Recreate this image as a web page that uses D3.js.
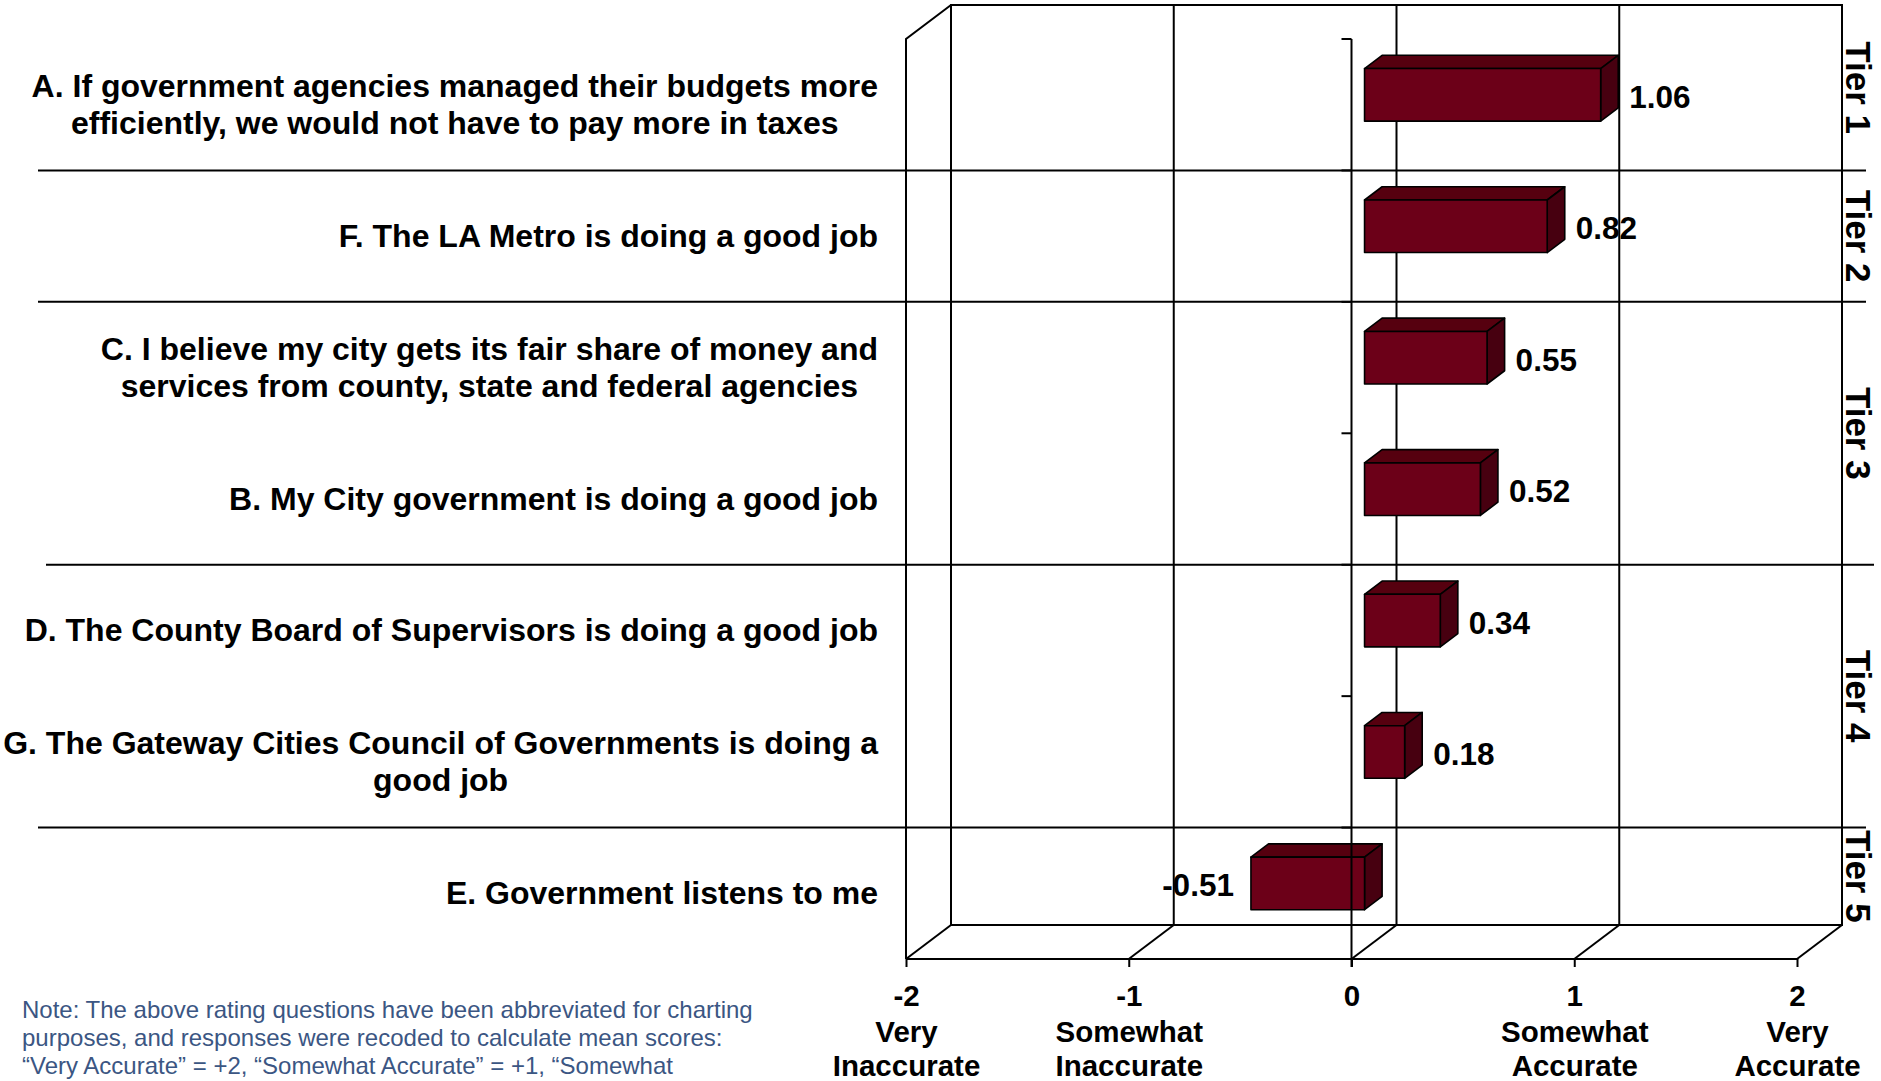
<!DOCTYPE html>
<html>
<head>
<meta charset="utf-8">
<script src="https://cdn.jsdelivr.net/npm/d3@7"></script>
<style>
  html, body { margin: 0; padding: 0; background: #ffffff; overflow: hidden; }
  svg { display: block; }
  text { font-family: "Liberation Sans", Arial, Helvetica, sans-serif; }
</style>
</head>
<body>
<svg id="chart" width="1881" height="1081"></svg>
<script>
// ---------------- DATA ----------------
const categories = [
  ["A. If government agencies managed their budgets more", "efficiently, we would not have to pay more in taxes"],
  ["F. The LA Metro is doing a good job"],
  ["C. I believe my city gets its fair share of money and", "services from county, state and federal agencies"],
  ["B. My City government is doing a good job"],
  ["D. The County Board of Supervisors is doing a good job"],
  ["G. The Gateway Cities Council of Governments is doing a", "good job"],
  ["E. Government listens to me"]
];
const values = [1.06, 0.82, 0.55, 0.52, 0.34, 0.18, -0.51];
const valueLabels = ["1.06", "0.82", "0.55", "0.52", "0.34", "0.18", "-0.51"];
const tiers = ["Tier 1", "Tier 2", "Tier 3", "Tier 3", "Tier 4", "Tier 4", "Tier 5"];
const tickValues = [-2, -1, 0, 1, 2];
const tickLabels = ["-2", "-1", "0", "1", "2"];
const tickCaptions = [["Very", "Inaccurate"], ["Somewhat", "Inaccurate"], [], ["Somewhat", "Accurate"], ["Very", "Accurate"]];
const noteLines = [
  "Note: The above rating questions have been abbreviated for charting",
  "purposes, and responses were recoded to calculate mean scores:",
  "\u201cVery Accurate\u201d = +2, \u201cSomewhat Accurate\u201d = +1, \u201cSomewhat"
];

// ---------------- LAYOUT ----------------
const svg = d3.select("#chart");
const X0 = 906, X1 = 1797, YTOP = 39, YBOT = 959;
const DX = 45, DY = -34;            // depth offset of the 3D box
const Z0 = 0.29, ZD = 0.39;         // bar depth start / thickness (fraction of box depth)
const x = d3.scaleLinear().domain([-2, 2]).range([X0, X1]);
const y = d3.scaleBand().domain(d3.range(categories.length)).range([YTOP, YBOT]).paddingInner(0).paddingOuter(0);
const bw = y.bandwidth();
const barH = bw * 0.40;
const colFront = "#6c0018", colTop = "#56000f", colSide = "#470010";
const font = '"Liberation Sans", Arial, Helvetica, sans-serif';

const grid = svg.append("g").attr("stroke", "#000").attr("stroke-width", 2).attr("fill", "none");
// back wall
grid.append("rect").attr("x", X0 + DX).attr("y", YTOP + DY).attr("width", X1 - X0).attr("height", YBOT - YTOP);
// back gridlines
tickValues.slice(1, -1).forEach(v => {
  grid.append("line").attr("x1", x(v) + DX).attr("x2", x(v) + DX).attr("y1", YTOP + DY).attr("y2", YBOT + DY);
});
// left wall front edge and top diagonal
grid.append("path").attr("d", `M${X0},${YBOT}L${X0},${YTOP}L${X0 + DX},${YTOP + DY}`);
// floor front line and diagonals
grid.append("line").attr("x1", X0).attr("x2", X1).attr("y1", YBOT).attr("y2", YBOT);
tickValues.forEach(v => {
  grid.append("line").attr("x1", x(v)).attr("y1", YBOT).attr("x2", x(v) + DX).attr("y2", YBOT + DY);
});

// ---------------- BARS ----------------
const bars = svg.append("g").attr("stroke", "#000").attr("stroke-width", 1.6).attr("stroke-linejoin", "round");
values.forEach((v, i) => {
  const yc = y(i) + bw / 2 + Z0 * DY;
  const xa = x(Math.min(0, v)) + Z0 * DX, xb = x(Math.max(0, v)) + Z0 * DX;
  const yt = yc - barH / 2, yb = yc + barH / 2;
  const ddx = ZD * DX, ddy = ZD * DY;
  bars.append("path").attr("fill", colTop)
    .attr("d", `M${xa},${yt}L${xa + ddx},${yt + ddy}L${xb + ddx},${yt + ddy}L${xb},${yt}Z`);
  bars.append("path").attr("fill", colSide)
    .attr("d", `M${xb},${yt}L${xb + ddx},${yt + ddy}L${xb + ddx},${yb + ddy}L${xb},${yb}Z`);
  bars.append("rect").attr("fill", colFront).attr("x", xa).attr("y", yt).attr("width", xb - xa).attr("height", barH);
  // value labels
  const t = svg.append("text").text(valueLabels[i])
    .attr("font-size", 31.5).attr("font-weight", "bold").attr("fill", "#000")
    .attr("dominant-baseline", "central").attr("y", yc + 2);
  if (v >= 0) t.attr("x", xb + ddx + 11).attr("text-anchor", "start");
  else t.attr("x", xa - 17).attr("text-anchor", "end");
});

// ---------------- ZERO AXIS (category axis) ----------------
const zx = x(0);
const za = svg.append("g").attr("stroke", "#000").attr("stroke-width", 2);
za.append("line").attr("x1", zx).attr("x2", zx).attr("y1", YTOP).attr("y2", YBOT + 8);
d3.range(categories.length + 1).forEach(k => {
  const yy = YTOP + k * bw;
  za.append("line").attr("x1", zx - 10).attr("x2", zx).attr("y1", yy).attr("y2", yy);
});

// ---------------- X AXIS ----------------
const xAxis = d3.axisBottom(x).tickValues(tickValues).tickSize(8).tickFormat((d, i) => tickLabels[i]);
const gx = svg.append("g").attr("transform", `translate(0,${YBOT})`).call(xAxis);
gx.select(".domain").remove();
gx.selectAll(".tick line").attr("stroke", "#000").attr("stroke-width", 2);
gx.selectAll(".tick text").attr("font-family", font).attr("font-size", 29.5).attr("font-weight", "bold")
  .attr("fill", "#000").attr("dy", null).attr("y", 47);
gx.selectAll(".tick").each(function (d, i) {
  const g = d3.select(this);
  tickCaptions[i].forEach((s, j) => {
    g.append("text").text(s).attr("x", 0).attr("y", 83 + j * 34)
      .attr("text-anchor", "middle").attr("font-family", font).attr("font-size", 29.5)
      .attr("font-weight", "bold").attr("fill", "#000");
  });
});

// ---------------- CATEGORY LABELS ----------------
const LABEL_RIGHT = 878, LINE_H = 37;
categories.forEach((lines, i) => {
  const g = svg.append("g");
  const yc = y(i) + bw / 2;
  const ts = lines.map((s, j) => g.append("text").text(s)
    .attr("font-size", 32).attr("font-weight", "bold").attr("fill", "#000")
    .attr("text-anchor", "middle")
    .attr("y", yc + (j - (lines.length - 1) / 2) * LINE_H + 11));
  const w = d3.max(ts, t => t.node().getComputedTextLength());
  ts.forEach(t => t.attr("x", LABEL_RIGHT - w / 2));
});

// ---------------- TIERS ----------------
const tierBounds = [];
tiers.forEach((t, i) => {
  if (i === 0 || tiers[i - 1] !== t) tierBounds.push({ name: t, start: i, end: i + 1 });
  else tierBounds[tierBounds.length - 1].end = i + 1;
});
const tl = svg.append("g").attr("stroke", "#000").attr("stroke-width", 2);
tierBounds.slice(1).forEach((tb, k) => {
  const yy = YTOP + tb.start * bw;
  tl.append("line").attr("x1", k === 2 ? 46 : 38).attr("x2", k === 2 ? 1874 : 1866).attr("y1", yy).attr("y2", yy);
});
tierBounds.forEach((tb, k) => {
  const top = k === 0 ? YTOP + DY : YTOP + tb.start * bw;
  const bot = k === tierBounds.length - 1 ? YBOT + DY : YTOP + tb.end * bw;
  const cy = (top + bot) / 2;
  svg.append("text").text(tb.name)
    .attr("transform", `translate(1846,${cy}) rotate(90)`)
    .attr("text-anchor", "middle").attr("font-size", 35).attr("font-weight", "bold").attr("fill", "#000");
});

// ---------------- NOTE ----------------
noteLines.forEach((s, j) => {
  svg.append("text").text(s).attr("x", 22).attr("y", 1018 + j * 28)
    .attr("font-size", 24).attr("fill", "#3b5683");
});
</script>
</body>
</html>
